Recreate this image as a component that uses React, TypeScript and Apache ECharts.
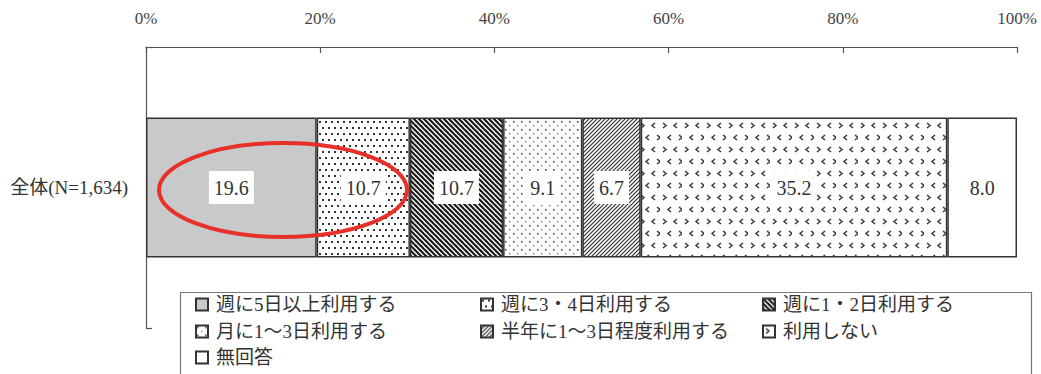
import React, { useEffect, useRef } from 'react';
import * as echarts from 'echarts';

const categories = ['全体(N=1,634)'];
const seriesNames = [
  '週に5日以上利用する',
  '週に3・4日利用する',
  '週に1・2日利用する',
  '月に1～3日利用する',
  '半年に1～3日程度利用する',
  '利用しない',
  '無回答',
];
const seriesValues = [19.6, 10.7, 10.7, 9.1, 6.7, 35.2, 8.0];
const axisTickValues = [0, 20, 40, 60, 80, 100];

function tile(w: number, h: number, draw: (ctx: CanvasRenderingContext2D) => void) {
  const c = document.createElement('canvas');
  c.width = w;
  c.height = h;
  const ctx = c.getContext('2d')!;
  ctx.fillStyle = '#fff';
  ctx.fillRect(0, 0, w, h);
  draw(ctx);
  return { image: c.toDataURL(), repeat: 'repeat', imageWidth: w, imageHeight: h } as any;
}

function makeFills() {
  const solid = '#c8c9cb';
  const dots = tile(6, 12, (ctx) => {
    ctx.fillStyle = '#333';
    ctx.fillRect(1, 1, 2, 2);
    ctx.fillRect(4, 7, 2, 2);
  });
  const back = tile(5, 5, (ctx) => {
    ctx.strokeStyle = '#1a1a1a';
    ctx.lineWidth = 2.2;
    for (let k = -1; k <= 1; k++) {
      ctx.beginPath();
      ctx.moveTo(k * 5 - 1, -1);
      ctx.lineTo(k * 5 + 6, 6);
      ctx.stroke();
    }
  });
  const sparse = tile(8, 8, (ctx) => {
    ctx.fillStyle = '#444';
    ctx.fillRect(1, 1, 1.6, 1.6);
    ctx.fillStyle = '#777';
    ctx.fillRect(5, 5, 1.4, 1.4);
  });
  const fwd = tile(4, 4, (ctx) => {
    ctx.strokeStyle = '#333';
    ctx.lineWidth = 1.2;
    for (let k = 0; k <= 2; k++) {
      const c = k * 4;
      ctx.beginPath();
      ctx.moveTo(c + 1, -1);
      ctx.lineTo(c - 5, 5);
      ctx.stroke();
    }
  });
  const chev = tile(22, 24, (ctx) => {
    ctx.strokeStyle = '#3a3a3a';
    ctx.lineWidth = 1.5;
    const gt = (x: number, y: number) => {
      ctx.beginPath();
      ctx.moveTo(x, y);
      ctx.lineTo(x + 3, y + 2.5);
      ctx.lineTo(x, y + 5);
      ctx.stroke();
    };
    const lt = (x: number, y: number) => {
      ctx.beginPath();
      ctx.moveTo(x + 3, y);
      ctx.lineTo(x, y + 2.5);
      ctx.lineTo(x + 3, y + 5);
      ctx.stroke();
    };
    gt(3, 3);
    lt(14, 3);
    lt(8, 15);
    gt(19, 15);
  });
  return [solid, dots, back, sparse, fwd, chev, '#ffffff'];
}

const fontSerif = "'Liberation Serif', 'Noto Sans CJK JP', serif";
const fontLegend = "'Liberation Serif', 'Noto Sans CJK JP', sans-serif";

export default function App() {
  const ref = useRef<HTMLDivElement>(null);
  useEffect(() => {
    document.body.style.margin = '0';
    const chart = echarts.init(ref.current!, null, { renderer: 'svg' });
    const fills = makeFills();
    const colX = [195, 480, 762];
    const rowY = [305, 332, 358];
    const legends = seriesNames.map((name, i) => ({
      data: [name],
      left: colX[i % 3],
      top: rowY[Math.floor(i / 3)] - 10,
      padding: 0,
      itemWidth: 12,
      itemHeight: 12,
      icon: 'rect',
      selectedMode: false,
      textStyle: { fontSize: 19, color: '#333', fontFamily: fontLegend, padding: [0, 0, 0, 3] },
    }));
    chart.setOption({
      animation: false,
      backgroundColor: '#fff',
      grid: { left: 146, right: 24, top: 47, bottom: 374 - 328, containLabel: false },
      legend: legends,
      xAxis: {
        type: 'value',
        position: 'top',
        min: axisTickValues[0],
        max: axisTickValues[axisTickValues.length - 1],
        interval: axisTickValues[1] - axisTickValues[0],
        axisLine: { show: true, lineStyle: { color: '#555', width: 1.2 } },
        axisTick: { show: true, inside: true, length: 6, lineStyle: { color: '#555', width: 1.2 } },
        splitLine: { show: false },
        axisLabel: {
          formatter: '{value}%',
          margin: 20,
          fontSize: 17,
          color: '#444',
          fontFamily: fontSerif,
        },
      },
      yAxis: {
        type: 'category',
        data: categories,
        inverse: true,
        axisLine: { show: true, lineStyle: { color: '#555', width: 1.2 } },
        axisTick: { show: true, inside: true, length: 6, lineStyle: { color: '#555', width: 1.2 } },
        axisLabel: { margin: 18, fontSize: 19, color: '#333', fontFamily: fontSerif },
      },
      series: seriesNames.map((name, i) => ({
        type: 'bar',
        name,
        stack: 'total',
        barWidth: 140,
        data: [seriesValues[i]],
        itemStyle: { color: fills[i], borderColor: '#333', borderWidth: 1.5 },
        label: {
          show: true,
          position: 'inside',
          formatter: (p: any) => Number(p.value).toFixed(1),
          color: '#333',
          fontSize: 20,
          fontFamily: fontSerif,
          backgroundColor: '#fff',
          padding: [7, 5, 6, 5],
        },
      })),
      graphic: [
        {
          type: 'rect',
          z: 1,
          shape: { x: 180.5, y: 292.5, width: 851, height: 100 },
          style: { fill: 'none', stroke: '#777', lineWidth: 1.2 },
        },
        {
          type: 'ellipse',
          z: 100,
          shape: { cx: 283, cy: 190, rx: 124, ry: 47 },
          style: { fill: 'none', stroke: '#e8302a', lineWidth: 4 },
        },
      ],
    });
    return () => chart.dispose();
  }, []);
  return <div ref={ref} style={{ width: 1041, height: 374, position: 'absolute', left: 0, top: 0 }} />;
}
